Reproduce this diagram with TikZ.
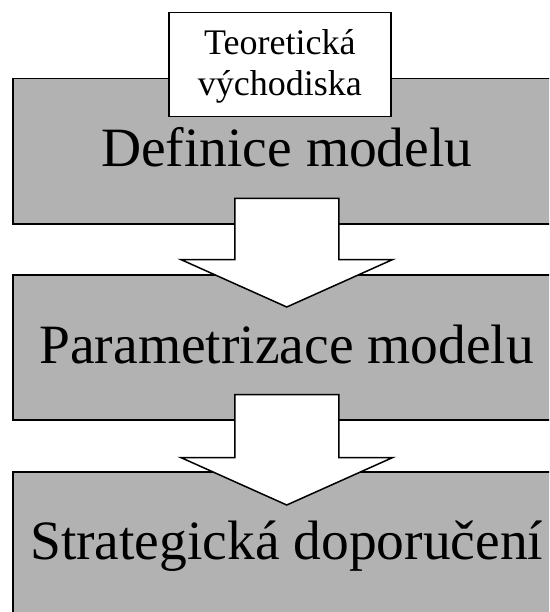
\documentclass[tikz,border=0pt]{standalone}
\usepackage{fontspec}
\setmainfont{Liberation Serif}
\usetikzlibrary{calc}
\tikzset{
    stage/.style={draw, line width=1.5pt, fill=black!30, anchor=north west,
        minimum width=548pt, minimum height=145pt, inner sep=0pt},
    stagetext/.style={anchor=base, inner sep=0pt, font=\fontsize{55.5}{60}\selectfont},
    source/.style={draw, line width=1.5pt, fill=white, anchor=north west,
        minimum width=222pt, minimum height=104pt, inner sep=0pt},
    sourcetext/.style={anchor=base, align=center, inner sep=0pt,
        font=\fontsize{36}{41}\selectfont},
    blockarrow/.style={draw, line width=1.5pt, fill=white, line join=miter}
}

\begin{document}
\begin{tikzpicture}[x=1pt,y=-1pt]
    \useasboundingbox (0,0) rectangle (549,612);
    \clip (0,0) rectangle (549,612);
    % three stages
    \node[stage] (def) at (12,78) {};
    \node[stage] (par) at (12,274) {};
    \node[stage] (str) at (12,471) {};
    \node[source] (teo) at (168,12) {};
    % texts
    \node[sourcetext] (teotxt) at ($(teo.north)+(0,84)$) {Teoretická\\východiska};
    \node[stagetext] (deftxt) at ($(def.north)+(0,89)$) {Definice modelu};
    \node[stagetext] (partxt) at ($(par.north)+(0,89)$) {Parametrizace modelu};
    \node[stagetext] (strtxt) at ($(str.north)+(0,88)$) {Strategická doporučení};
    % arrows
    \draw[blockarrow] ($(def.south)+(-52,-26)$) -- ++(104,0) -- ++(0,61) -- ++(54,0)
        -- ($(par.north)+(0,33)$) -- ($(def.south)+(-106,35)$) -- ++(54,0) -- cycle;
    \draw[blockarrow] ($(par.south)+(-52,-26)$) -- ++(104,0) -- ++(0,63) -- ++(54,0)
        -- ($(str.north)+(0,34)$) -- ($(par.south)+(-106,37)$) -- ++(54,0) -- cycle;
\end{tikzpicture}
\end{document}
